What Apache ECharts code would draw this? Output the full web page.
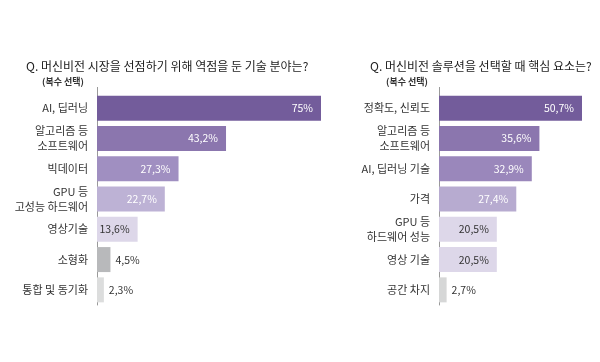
<!DOCTYPE html>
<html><head><meta charset="utf-8">
<script src="https://cdn.jsdelivr.net/npm/echarts@6/dist/echarts.min.js"></script>
<style>html,body{margin:0;padding:0;background:#fff}#c{width:600px;height:362px}</style>
</head><body><div id="c"></div>
<script>
const leftTitle = 'Q. 머신비전 시장을 선점하기 위해 역점을 둔 기술 분야는?';
const rightTitle = 'Q. 머신비전 솔루션을 선택할 때 핵심 요소는?';
const subTitle = '(복수 선택)';
const leftCats = ['AI, 딥러닝', '알고리즘 등\n소프트웨어', '빅데이터', 'GPU 등\n고성능 하드웨어', '영상기술', '소형화', '통합 및 동기화'];
const leftVals = [75, 43.2, 27.3, 22.7, 13.6, 4.5, 2.3];
const rightCats = ['정확도, 신뢰도', '알고리즘 등\n소프트웨어', 'AI, 딥러닝 기술', '가격', 'GPU 등\n하드웨어 성능', '영상 기술', '공간 차지'];
const rightVals = [50.7, 35.6, 32.9, 27.4, 20.5, 20.5, 2.7];
const leftColors = ['#735c9b', '#8b76ae', '#a08fc1', '#bdb2d5', '#ddd7e9', '#b8b9bb', '#dcdddd'];
const rightColors = ['#735c9b', '#8b76ae', '#9a87bb', '#b7abd0', '#ddd7e9', '#ddd7e9', '#d6d7d7'];
const leftLabelColors = ['#fff', '#fff', '#fff', '#fff', '#333', '#333', '#333'];
const rightLabelColors = ['#fff', '#fff', '#fff', '#fff', '#333', '#333', '#333'];

const FONT = '"Noto Sans CJK KR", "Noto Sans", sans-serif';
function mkData(vals, colors, lcolors) {
  return vals.map((v, i) => ({
    value: v,
    itemStyle: { color: colors[i] },
    label: {
      position: v < 10 ? 'right' : 'insideRight',
      color: lcolors[i],
      distance: v < 10 ? 5 : 8
    }
  }));
}
const chart = echarts.init(document.getElementById('c'), null, { renderer: 'canvas' });
const catAxis = (gi, cats) => ({
  type: 'category', gridIndex: gi, data: cats, inverse: true,
  axisLine: { lineStyle: { color: '#9a9a9a', width: 1 } },
  axisTick: { show: false },
  axisLabel: { color: '#333', fontSize: 11, fontFamily: FONT, margin: 9, lineHeight: 15, align: 'right' }
});
chart.setOption({
  animation: false,
  textStyle: { fontFamily: FONT },
  title: [
    { text: leftTitle, left: 21, top: 55, textStyle: { fontSize: 12, fontWeight: 'normal', color: '#222', fontFamily: FONT } },
    { text: subTitle, left: 37, top: 72, textStyle: { fontSize: 9, fontWeight: 'bold', color: '#333', fontFamily: FONT } },
    { text: rightTitle, left: 365, top: 55, textStyle: { fontSize: 12, fontWeight: 'normal', color: '#222', fontFamily: FONT } },
    { text: subTitle, left: 381, top: 72, textStyle: { fontSize: 9, fontWeight: 'bold', color: '#333', fontFamily: FONT } }
  ],
  grid: [
    { left: 97, top: 93, width: 224, height: 212 },
    { left: 439, top: 93, width: 143, height: 212 }
  ],
  xAxis: [
    { type: 'value', gridIndex: 0, min: 0, max: 'dataMax', show: false },
    { type: 'value', gridIndex: 1, min: 0, max: 'dataMax', show: false }
  ],
  yAxis: [catAxis(0, leftCats), catAxis(1, rightCats)],
  series: [
    { type: 'bar', xAxisIndex: 0, yAxisIndex: 0, barWidth: 25, data: mkData(leftVals, leftColors, leftLabelColors),
      label: { show: true, fontSize: 10.5, fontFamily: FONT, formatter: p => String(p.value).replace('.', ',') + '%' } },
    { type: 'bar', xAxisIndex: 1, yAxisIndex: 1, barWidth: 25, data: mkData(rightVals, rightColors, rightLabelColors),
      label: { show: true, fontSize: 10.5, fontFamily: FONT, formatter: p => String(p.value).replace('.', ',') + '%' } }
  ],
  graphic: [
    { type: 'line', shape: { x1: 97.5, y1: 87, x2: 97.5, y2: 93 }, style: { stroke: '#9a9a9a', lineWidth: 1 } },
    { type: 'line', shape: { x1: 439.5, y1: 87, x2: 439.5, y2: 93 }, style: { stroke: '#9a9a9a', lineWidth: 1 } }
  ]
});
</script></body></html>
